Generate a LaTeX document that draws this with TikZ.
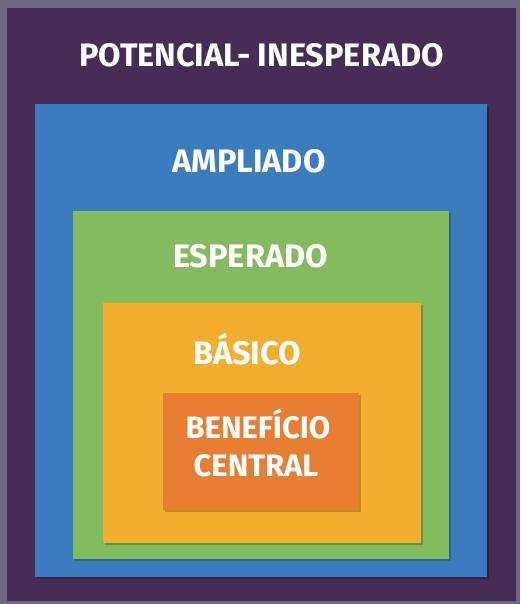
\documentclass[tikz,border=0pt]{standalone}
\usepackage{fontspec}
\setmainfont{Fira Sans}
\definecolor{frame}{HTML}{6E6885}
\definecolor{purp}{HTML}{472C55}
\definecolor{blu}{HTML}{3A7DBF}
\definecolor{grn}{HTML}{82BC5E}
\definecolor{yel}{HTML}{F4AE2E}
\definecolor{org}{HTML}{E87E32}
\begin{document}
\begin{tikzpicture}[x=1pt,y=-1pt,
  lbl/.style={text=white,font=\bfseries\fontsize{32.5}{36}\selectfont,inner sep=0pt,anchor=base},
  sml/.style={lbl,font=\bfseries\fontsize{31}{37}\selectfont}]
\useasboundingbox (0,0) rectangle (520,604);
\fill[frame] (0,0) rectangle (520,604);
\fill[purp] (7,8) rectangle (516,601);
\fill[black,opacity=0.25] (37,106) rectangle (489,579);
\fill[blu] (35,104) rectangle (487,577);
\fill[black,opacity=0.2] (75,213) rectangle (451,561);
\fill[grn] (73,211) rectangle (449,559);
\fill[black,opacity=0.2] (105,305) rectangle (423,545);
\fill[yel] (103,303) rectangle (421,543);
\fill[black,opacity=0.2] (165,395) rectangle (361,512);
\fill[org] (163,393) rectangle (359,510);
\node[lbl] (pot) at (261.5,67) {POTENCIAL- INESPERADO};
\node[lbl] (amp) at (249,172) {AMPLIADO};
\node[lbl] (esp) at (250.5,267) {ESPERADO};
\node[lbl] (bas) at (247,364) {BÁSICO};
\node[sml] (ben) at (258,438) {BENEFÍCIO};
\node[sml] (cen) at (256,476) {CENTRAL};
\end{tikzpicture}
\end{document}
